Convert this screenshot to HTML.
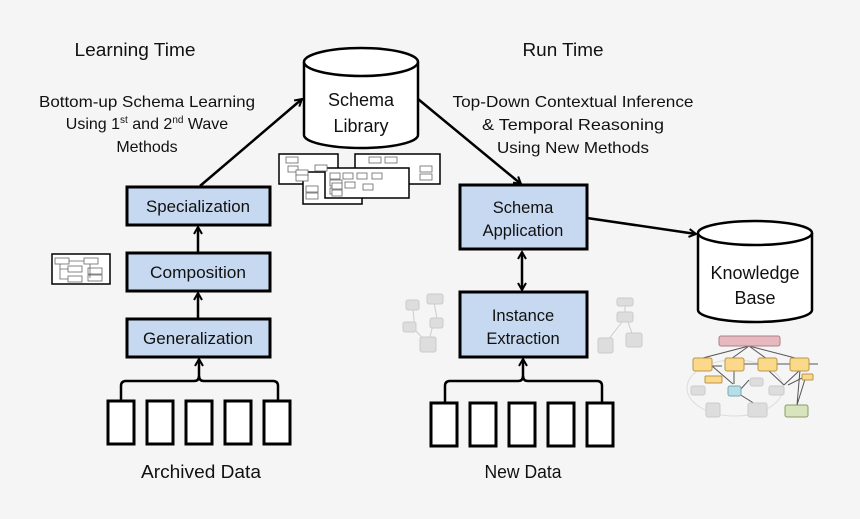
<!DOCTYPE html>
<html><head><meta charset="utf-8"><style>
html,body{margin:0;padding:0;background:#f5f5f5;}
svg{display:block;}
text{font-family:"Liberation Sans",sans-serif;fill:#111;}
</style></head><body>
<svg width="860" height="519" viewBox="0 0 860 519" xmlns="http://www.w3.org/2000/svg">
<defs>
<marker id="ah" markerWidth="10" markerHeight="10" refX="8" refY="5" orient="auto" markerUnits="userSpaceOnUse">
<path d="M1,1 L8,5 L1,9" fill="none" stroke="#000" stroke-width="2"/>
</marker>
<marker id="ahs" markerWidth="10" markerHeight="10" refX="2" refY="5" orient="auto" markerUnits="userSpaceOnUse">
<path d="M9,1 L2,5 L9,9" fill="none" stroke="#000" stroke-width="2"/>
</marker>
</defs>
<rect width="860" height="519" fill="#f5f5f5"/>

<!-- headings -->
<text x="135" y="56" font-size="18.5" text-anchor="middle" textLength="121" lengthAdjust="spacingAndGlyphs">Learning Time</text>
<text x="563" y="56" font-size="18.5" text-anchor="middle" textLength="81" lengthAdjust="spacingAndGlyphs">Run Time</text>
<g font-size="16" text-anchor="middle">
<text x="147" y="107" textLength="216" lengthAdjust="spacingAndGlyphs">Bottom-up Schema Learning</text>
<text x="147" y="129">Using 1<tspan font-size="10" dy="-6">st</tspan><tspan dy="6"> and 2</tspan><tspan font-size="10" dy="-6">nd</tspan><tspan dy="6"> Wave</tspan></text>
<text x="147" y="152">Methods</text>
<text x="573" y="107" textLength="241" lengthAdjust="spacingAndGlyphs">Top-Down Contextual Inference</text>
<text x="573" y="130" textLength="182" lengthAdjust="spacingAndGlyphs">&amp; Temporal Reasoning</text>
<text x="573" y="153" textLength="152" lengthAdjust="spacingAndGlyphs">Using New Methods</text>
</g>

<!-- Schema Library cylinder -->
<path d="M304,62 L304,135 A57,13 0 0 0 418,135 L418,62" fill="#fff" stroke="#000" stroke-width="2.5"/>
<ellipse cx="361" cy="62" rx="57" ry="14" fill="#fff" stroke="#000" stroke-width="2.5"/>
<text x="361" y="106" font-size="18" text-anchor="middle">Schema</text>
<text x="361" y="132" font-size="18" text-anchor="middle">Library</text>

<!-- Knowledge Base cylinder -->
<path d="M698,233 L698,310 A57,12 0 0 0 812,310 L812,233" fill="#fff" stroke="#000" stroke-width="2.5"/>
<ellipse cx="755" cy="233" rx="57" ry="12" fill="#fff" stroke="#000" stroke-width="2.5"/>
<text x="755" y="279" font-size="18" text-anchor="middle">Knowledge</text>
<text x="755" y="304" font-size="18" text-anchor="middle">Base</text>

<!-- schema thumbnails under library -->
<g stroke="#000" fill="#fff" stroke-width="1.5">
<rect x="279" y="154" width="59" height="30"/>
<rect x="303" y="172" width="59" height="32"/>
<rect x="355" y="154" width="85" height="30"/>
<rect x="325" y="168" width="84" height="30"/>
</g>
<g stroke="#666" fill="#fff" stroke-width="0.8">
<rect x="286" y="157" width="12" height="6"/><rect x="288" y="166" width="10" height="6"/><rect x="296" y="170" width="12" height="6"/><rect x="296" y="175" width="12" height="6"/><rect x="315" y="165" width="12" height="6"/>
<rect x="306" y="186" width="12" height="6"/><rect x="306" y="193" width="12" height="6"/><rect x="330" y="180" width="12" height="6"/><rect x="330" y="188" width="12" height="6"/>
<rect x="369" y="157" width="12" height="6"/><rect x="385" y="157" width="12" height="6"/><rect x="420" y="166" width="12" height="6"/><rect x="420" y="174" width="12" height="6"/>
<rect x="330" y="173" width="10" height="6"/><rect x="343" y="173" width="10" height="6"/><rect x="357" y="173" width="10" height="6"/><rect x="372" y="173" width="10" height="6"/><rect x="332" y="183" width="10" height="6"/><rect x="345" y="182" width="10" height="6"/><rect x="363" y="184" width="10" height="6"/><rect x="332" y="190" width="10" height="6"/>
</g>

<!-- small thumbnail left -->
<rect x="52" y="254" width="58" height="30" fill="#fff" stroke="#000" stroke-width="1.5"/>
<g stroke="#666" fill="#fff" stroke-width="0.8">
<rect x="55" y="258" width="14" height="6"/><rect x="84" y="258" width="14" height="6"/><rect x="68" y="266" width="14" height="6"/><rect x="68" y="276" width="14" height="6"/><rect x="88" y="268" width="14" height="6"/><rect x="88" y="275" width="14" height="6"/>
<path d="M69,261 L84,261 M60,264 L60,279 L68,279 M60,269 L68,269 M90,264 L90,278"/>
</g>

<!-- boxes -->
<g stroke="#000" stroke-width="3" fill="#c6d9f0">
<rect x="127" y="187" width="143" height="38"/>
<rect x="127" y="253" width="143" height="38"/>
<rect x="127" y="319" width="143" height="38"/>
<rect x="460" y="185" width="127" height="64"/>
<rect x="460" y="292" width="127" height="65"/>
</g>
<g font-size="16.5" text-anchor="middle">
<text x="198" y="212" textLength="104" lengthAdjust="spacingAndGlyphs">Specialization</text>
<text x="198" y="278" textLength="96" lengthAdjust="spacingAndGlyphs">Composition</text>
<text x="198" y="344" textLength="110" lengthAdjust="spacingAndGlyphs">Generalization</text>
<text x="523" y="213">Schema</text>
<text x="523" y="236">Application</text>
<text x="523" y="321">Instance</text>
<text x="523" y="344">Extraction</text>
</g>

<!-- arrows -->
<g stroke="#000" stroke-width="2.5" fill="none">
<line x1="198" y1="318" x2="198" y2="293" marker-end="url(#ah)"/>
<line x1="198" y1="252" x2="198" y2="227" marker-end="url(#ah)"/>
<line x1="200" y1="186" x2="302" y2="99" marker-end="url(#ah)"/>
<line x1="418" y1="99" x2="521" y2="184" marker-end="url(#ah)"/>
<line x1="587" y1="218" x2="696" y2="234" marker-end="url(#ah)"/>
<line x1="522" y1="252" x2="522" y2="290" marker-end="url(#ah)" marker-start="url(#ahs)"/>
<path d="M121,401 L121,386 Q121,381 126,381 L194,381 Q199,381 199,376 Q199,381 204,381 L273,381 Q278,381 278,386 L278,401"/>
<line x1="199" y1="378" x2="199" y2="359" marker-end="url(#ah)"/>
<path d="M445,403 L445,386 Q445,381 450,381 L518,381 Q523,381 523,376 Q523,381 528,381 L597,381 Q602,381 602,386 L602,403"/>
<line x1="523" y1="378" x2="523" y2="359" marker-end="url(#ah)"/>
</g>

<!-- data rects -->
<g stroke="#000" stroke-width="3" fill="#fff">
<rect x="108" y="401" width="26" height="43"/><rect x="147" y="401" width="26" height="43"/><rect x="186" y="401" width="26" height="43"/><rect x="225" y="401" width="26" height="43"/><rect x="264" y="401" width="26" height="43"/>
<rect x="431" y="403" width="26" height="43"/><rect x="470" y="403" width="26" height="43"/><rect x="509" y="403" width="26" height="43"/><rect x="548" y="403" width="26" height="43"/><rect x="587" y="403" width="26" height="43"/>
</g>
<text x="201" y="478" font-size="18.5" text-anchor="middle" textLength="120" lengthAdjust="spacingAndGlyphs">Archived Data</text>
<text x="523" y="478" font-size="18.5" text-anchor="middle" textLength="77" lengthAdjust="spacingAndGlyphs">New Data</text>

<!-- grey mini graphs -->
<g stroke="#ccc" stroke-width="1" fill="#ddd">
<path d="M413,309 L415,330 L428,344 M434,302 L437,319 M433,325 L428,344" fill="none"/>
<rect x="406" y="300" width="13" height="10" rx="2"/><rect x="427" y="294" width="16" height="10" rx="2"/><rect x="403" y="322" width="13" height="10" rx="2"/><rect x="430" y="318" width="13" height="10" rx="2"/><rect x="420" y="337" width="16" height="15" rx="2"/>
<path d="M625,304 L625,314 M622,322 L608,340 M628,322 L633,336" fill="none"/>
<rect x="617" y="298" width="16" height="8" rx="2"/><rect x="617" y="312" width="16" height="10" rx="2"/><rect x="598" y="338" width="15" height="15" rx="2"/><rect x="626" y="333" width="16" height="14" rx="2"/>
</g>

<!-- KB graph -->
<g fill="none" stroke="#ddd" stroke-width="1">
<ellipse cx="735" cy="388" rx="48" ry="28"/>
</g>
<g stroke="#555" stroke-width="1" fill="none">
<path d="M749,346 L699,359 M749,346 L731,359 M749,346 L767,359 M749,346 L799,359 M712,366 L733,384 M734,370 L734,384 M768,370 L784,385 M800,370 L784,385 M800,370 L797,405 M806,376 L797,405 M806,376 L788,385 M739,394 L760,407 M749,380 L740,390 M712,366 L722,366 M743,364 L758,364 M776,364 L790,364 M808,364 L818,364"/>
</g>
<rect x="719" y="336" width="61" height="10" rx="2" fill="#e6b8bf" stroke="#b08088"/>
<g fill="#fcd88a" stroke="#b8964a" stroke-width="1">
<rect x="693" y="358" width="19" height="13" rx="2"/><rect x="725" y="358" width="19" height="13" rx="2"/><rect x="758" y="358" width="19" height="13" rx="2"/><rect x="790" y="358" width="19" height="13" rx="2"/>
<rect x="705" y="376" width="17" height="7" rx="1"/><rect x="802" y="374" width="11" height="6" rx="1"/>
</g>
<rect x="728" y="386" width="13" height="10" rx="2" fill="#b7dde8" stroke="#7aa"/>
<g fill="#ddd" stroke="#ccc">
<rect x="691" y="386" width="14" height="9" rx="2"/><rect x="750" y="378" width="13" height="8" rx="2"/><rect x="769" y="386" width="15" height="9" rx="2"/><rect x="706" y="403" width="14" height="14" rx="2"/><rect x="748" y="403" width="19" height="14" rx="2"/>
</g>
<rect x="785" y="405" width="23" height="12" rx="2" fill="#d8e4bc" stroke="#8a9a6a"/>
</svg>
</body></html>
